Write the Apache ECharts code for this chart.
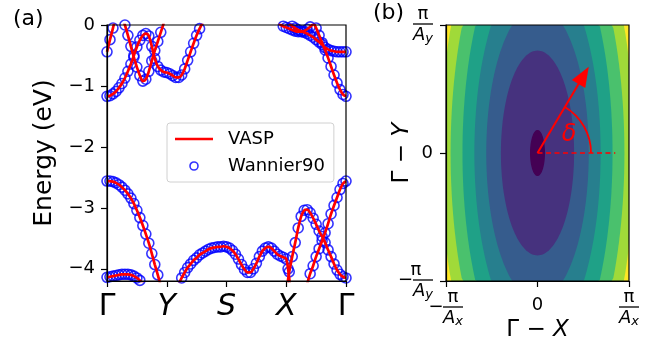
<!DOCTYPE html>
<html>
<head>
<meta charset="utf-8">
<script src="https://cdn.jsdelivr.net/npm/echarts@6/dist/echarts.min.js"></script>
<style>
html, body { margin: 0; padding: 0; background: #fff; }
#main { width: 652px; height: 341px; }
</style>
</head>
<body>
<div id="main"></div>
<script>
var kLabels = ['Γ', 'Y', 'S', 'X', 'Γ'];
var energyTicks = [-4, -3, -2, -1, 0];

// panel (a): bands, [k, E (eV)], k: Γ=0 Y=1 S=2 X=3 Γ=4
var bandU1a = [[0, -0.44], [0.05, -0.24], [0.1, -0.05], [0.15, 0.15]];
var bandU1b = [[3.05, 0.03], [3.1, -0.02], [3.15, -0.05], [3.2, -0.08], [3.25, -0.10], [3.3, -0.12],
  [3.35, -0.14], [3.4, -0.17], [3.45, -0.20], [3.5, -0.24], [3.55, -0.28], [3.6, -0.32], [3.65, -0.37],
  [3.7, -0.40], [3.75, -0.42], [3.8, -0.43], [3.85, -0.44], [3.9, -0.44], [3.95, -0.44], [4, -0.44]];
var bandU2 = [[0.28, 0.06], [0.3, 0], [0.35, -0.17], [0.4, -0.35], [0.45, -0.53], [0.5, -0.69], [0.55, -0.83],
  [0.6, -0.92], [0.65, -0.89], [0.7, -0.76], [0.75, -0.59], [0.8, -0.42], [0.85, -0.27], [0.9, -0.12], [0.95, 0.03]];
var bandU3 = [[0, -1.17], [0.05, -1.16], [0.1, -1.13], [0.15, -1.09], [0.2, -1.03], [0.25, -0.96], [0.3, -0.87],
  [0.35, -0.76], [0.4, -0.64], [0.45, -0.50], [0.5, -0.36], [0.55, -0.25], [0.6, -0.17], [0.65, -0.14],
  [0.7, -0.18], [0.75, -0.35], [0.8, -0.55], [0.85, -0.68], [0.9, -0.74], [0.95, -0.77], [1, -0.78],
  [1.05, -0.80], [1.1, -0.83], [1.15, -0.86], [1.2, -0.86], [1.25, -0.82], [1.3, -0.72], [1.35, -0.58],
  [1.4, -0.44], [1.45, -0.30], [1.5, -0.17], [1.55, -0.06], [1.6, 0.04]];
var bandU4 = [[2.88, 0.04], [2.9, 0.01], [2.95, -0.02], [3, -0.04], [3.05, -0.06], [3.1, -0.08], [3.15, -0.10],
  [3.2, -0.11], [3.25, -0.11], [3.3, -0.10], [3.35, -0.07], [3.4, -0.03], [3.45, 0.02]];
var bandU5 = [[3.46, 0.03], [3.5, -0.05], [3.55, -0.17], [3.6, -0.29], [3.65, -0.41], [3.7, -0.54], [3.75, -0.68],
  [3.8, -0.82], [3.85, -0.95], [3.9, -1.06], [3.95, -1.14], [4, -1.17]];
var bandL1 = [[0, -2.56], [0.05, -2.56], [0.1, -2.57], [0.15, -2.59], [0.2, -2.62], [0.25, -2.66], [0.3, -2.71],
  [0.35, -2.77], [0.4, -2.84], [0.45, -2.93], [0.5, -3.04], [0.55, -3.16], [0.6, -3.29], [0.65, -3.43],
  [0.7, -3.58], [0.75, -3.75], [0.8, -3.93], [0.85, -4.10], [0.9, -4.28]];
var bandL2 = [[0, -4.14], [0.05, -4.13], [0.1, -4.12], [0.15, -4.11], [0.2, -4.10], [0.25, -4.09], [0.3, -4.09],
  [0.35, -4.09], [0.4, -4.10], [0.45, -4.12], [0.5, -4.15], [0.55, -4.19], [0.6, -4.24]];
var bandL3 = [[1.2, -4.25], [1.25, -4.15], [1.3, -4.06], [1.35, -3.98], [1.4, -3.92], [1.45, -3.86], [1.5, -3.82],
  [1.55, -3.77], [1.6, -3.74], [1.65, -3.71], [1.7, -3.68], [1.75, -3.66], [1.8, -3.65], [1.85, -3.64],
  [1.9, -3.64], [1.95, -3.63], [2, -3.64], [2.05, -3.66], [2.1, -3.70], [2.15, -3.76], [2.2, -3.84],
  [2.25, -3.93], [2.3, -4.01], [2.35, -4.06], [2.4, -4.06], [2.45, -4.00], [2.5, -3.91], [2.55, -3.80],
  [2.6, -3.71], [2.65, -3.66], [2.7, -3.64], [2.75, -3.66], [2.8, -3.71], [2.85, -3.76], [2.9, -3.79],
  [2.95, -3.81], [3, -3.84], [3.03, -4.0], [3.06, -4.25]];
var bandL4 = [[3.02, -4.25], [3.05, -4.05], [3.1, -3.80], [3.15, -3.57], [3.2, -3.33], [3.25, -3.14], [3.3, -3.04],
  [3.35, -3.03], [3.4, -3.08], [3.45, -3.17], [3.5, -3.27], [3.55, -3.38], [3.6, -3.47], [3.65, -3.57],
  [3.7, -3.69], [3.75, -3.80], [3.8, -3.92], [3.85, -4.02], [3.9, -4.09], [3.95, -4.13], [4, -4.15]];
var bandL5 = [[3.35, -4.25], [3.4, -4.08], [3.45, -3.95], [3.5, -3.80], [3.55, -3.67], [3.6, -3.54], [3.65, -3.41],
  [3.7, -3.26], [3.75, -3.10], [3.8, -2.96], [3.85, -2.83], [3.9, -2.70], [3.95, -2.60], [4, -2.56]];

var bands = [bandU1a, bandU1b, bandU2, bandU3, bandU4, bandU5, bandL1, bandL2, bandL3, bandL4, bandL5];

// panel (b): contour boundaries as ellipse semi-axes (units of pi/A), outermost first
var contourSemiX = [1.058, 0.95, 0.82, 0.69, 0.56, 0.40, 0.082];
var contourSemiY = [2.22, 2.00, 1.78, 1.47, 1.15, 0.80, 0.18];
var bandColors = ['#fde725', '#a0da39', '#4ac16d', '#1fa187', '#277f8e', '#365c8d', '#46327e', '#440154'];

// arrow / angle annotation in panel (b)
var arrowTip = [0.56, 0.674];
var dashEnd = [0.85, 0];
var arcRadius = 0.585;
var deltaPos = [0.345, 0.14];

var chart = echarts.init(document.getElementById('main'));

var font = 'DejaVu Sans';
var axisLineStyle = { color: '#000', width: 1.2 };

var series = [];
bands.forEach(function (b) {
  series.push({
    name: 'VASP', type: 'line', xAxisIndex: 0, yAxisIndex: 0,
    data: b, symbol: 'none', smooth: 0.3, silent: true, z: 3,
    itemStyle: { color: '#ff0000' },
    lineStyle: { color: '#ff0000', width: 2.7 }
  });
});
series.push({
  name: 'Wannier90', type: 'scatter', xAxisIndex: 0, yAxisIndex: 0,
  data: [].concat.apply([], bands), symbol: 'circle', symbolSize: 10, silent: true, z: 2,
  itemStyle: { color: 'rgba(0,0,0,0)', borderColor: '#0000ff', borderWidth: 1.6 }
});

// background band of panel (b)
series.push({
  type: 'custom', xAxisIndex: 1, yAxisIndex: 1, silent: true, z: 1,
  data: [[-1, 1]],
  renderItem: function (params, api) {
    var a = api.coord([-1, 1]), b = api.coord([1, -1]);
    return { type: 'rect', shape: { x: a[0], y: a[1], width: b[0] - a[0], height: b[1] - a[1] },
      style: { fill: bandColors[0] } };
  }
});
series.push({
  type: 'custom', xAxisIndex: 1, yAxisIndex: 1, silent: true, z: 1, clip: true,
  data: contourSemiX.map(function (sx, i) { return [sx, contourSemiY[i]]; }),
  renderItem: function (params, api) {
    var ax = api.value(0), ay = api.value(1);
    var pts = [];
    for (var i = 0; i < 160; i++) {
      var t = 2 * Math.PI * i / 160;
      var x = Math.max(-1, Math.min(1, ax * Math.cos(t)));
      var y = Math.max(-1, Math.min(1, ay * Math.sin(t)));
      pts.push(api.coord([x, y]));
    }
    return { type: 'polygon', shape: { points: pts }, style: { fill: bandColors[params.dataIndex + 1] } };
  }
});
series.push({
  type: 'custom', xAxisIndex: 1, yAxisIndex: 1, silent: true, z: 5,
  data: [[arrowTip[0], arrowTip[1], dashEnd[0], arcRadius, deltaPos[0], deltaPos[1]]],
  renderItem: function (params, api) {
    var o = api.coord([0, 0]);
    var p = api.coord([api.value(0), api.value(1)]);
    var d = api.coord([api.value(2), 0]);
    var r = api.coord([api.value(3), 0])[0] - o[0];
    var t = api.coord([api.value(4), api.value(5)]);
    var dx = p[0] - o[0], dy = p[1] - o[1], len = Math.sqrt(dx * dx + dy * dy);
    var ux = dx / len, uy = dy / len;
    var hl = 20, hw = 7.8;
    var bx = p[0] - ux * hl, by = p[1] - uy * hl;
    var ang = Math.atan2(dy, dx);
    return {
      type: 'group',
      children: [
        { type: 'line', shape: { x1: o[0], y1: o[1], x2: d[0], y2: d[1] },
          style: { stroke: '#ff0000', lineWidth: 1.5, lineDash: [5, 3.5] } },
        { type: 'arc', shape: { cx: o[0], cy: o[1], r: r, startAngle: ang, endAngle: 0, clockwise: true },
          style: { stroke: '#ff0000', fill: null, lineWidth: 1.8 } },
        { type: 'line', shape: { x1: o[0], y1: o[1], x2: bx + ux * 2, y2: by + uy * 2 },
          style: { stroke: '#ff0000', lineWidth: 2 } },
        { type: 'polygon', shape: { points: [p, [bx - uy * hw, by + ux * hw], [bx + uy * hw, by - ux * hw]] },
          style: { fill: '#ff0000' } },
        { type: 'text', x: t[0], y: t[1],
          style: { text: 'δ', fill: '#ff0000', font: 'italic 24px "DejaVu Sans"', align: 'center', verticalAlign: 'middle' } }
      ]
    };
  }
});

var fracRich = {
  sp: { width: 14 },
  n: { fontSize: 18, lineHeight: 16, width: 20, align: 'center', fontFamily: font, color: '#000' },
  m: { fontSize: 18, lineHeight: 4, width: 14, fontFamily: font, color: '#000' },
  bar: { width: 20, height: 1.3, lineHeight: 4, backgroundColor: '#000' },
  d: { fontSize: 18, lineHeight: 18, fontStyle: 'italic', fontFamily: font, color: '#000' },
  s: { fontSize: 13, lineHeight: 10, padding: [8, 0, 0, 0], fontStyle: 'italic', fontFamily: font, color: '#000' },
  z: { fontSize: 18, padding: [7, 0, 0, 0], fontFamily: font, color: '#000' },
  z0: { fontSize: 18, fontFamily: font, color: '#000' }
};

var option = {
  animation: false,
  textStyle: { fontFamily: font },
  grid: [
    { left: 107, top: 25, width: 239, height: 256, outerBoundsMode: 'none',
      show: true, borderColor: '#000', borderWidth: 1.2, z: 10 },
    { left: 446, top: 25, width: 183, height: 256, outerBoundsMode: 'none',
      show: true, borderColor: '#000', borderWidth: 1.2, z: 10 }
  ],
  legend: {
    orient: 'vertical', left: 167, top: 123, selectedMode: false,
    padding: [6, 9, 6, 8], itemWidth: 38, itemHeight: 8, itemGap: 7,
    borderColor: '#d0d0d0', borderWidth: 1, borderRadius: 3, backgroundColor: 'rgba(255,255,255,0.8)',
    textStyle: { fontSize: 18, lineHeight: 20, color: '#000', fontFamily: font, padding: [0, 0, 0, 10] },
    data: [
      { name: 'VASP', icon: 'path://M0 0H38V2.7H0Z', itemStyle: { color: '#ff0000', borderWidth: 0 } },
      { name: 'Wannier90', icon: 'circle', itemStyle: { color: 'rgba(0,0,0,0)', borderColor: '#0000ff', borderWidth: 1.6 } }
    ]
  },
  graphic: [
    { type: 'text', left: 13, top: 8, style: { text: '(a)', font: '22px "DejaVu Sans"', fill: '#000' } },
    { type: 'text', left: 373, top: 2, style: { text: '(b)', font: '22px "DejaVu Sans"', fill: '#000' } }
  ],
  xAxis: [
    {
      gridIndex: 0, type: 'value', min: 0, max: 4, interval: 1, z: 10,
      axisLine: { onZero: false, lineStyle: axisLineStyle }, splitLine: { show: false },
      axisTick: { length: 6, lineStyle: axisLineStyle },
      axisLabel: {
        margin: 11,
        formatter: function (v) {
          var s = kLabels[Math.round(v)];
          return s === 'Γ' ? '{u|Γ}' : '{i|' + s + '}';
        },
        rich: {
          u: { fontSize: 30, fontFamily: font, color: '#000' },
          i: { fontSize: 30, fontFamily: font, fontStyle: 'italic', color: '#000' }
        }
      }
    },
    {
      gridIndex: 1, type: 'value', min: -1, max: 1, interval: 1, z: 10,
      axisLine: { onZero: false, lineStyle: axisLineStyle }, splitLine: { show: false },
      axisTick: { length: 6, lineStyle: axisLineStyle },
      name: 'Γ − {i|X}', nameLocation: 'middle', nameGap: 38, nameMoveOverlap: false,
      nameTextStyle: { fontSize: 23, color: '#000', fontFamily: font,
        rich: { i: { fontSize: 23, fontStyle: 'italic', fontFamily: font, color: '#000' } } },
      axisLabel: {
        margin: 8, verticalAlign: 'top', rich: fracRich,
        formatter: function (v) {
          if (v < 0) return '{sp|}{n|π}\n{m|−}{bar|}\n{sp|}{d|A}{s|x}';
          if (v > 0) return '{n|π}\n{bar|}\n{d|A}{s|x}';
          return '{z|0}';
        }
      }
    }
  ],
  yAxis: [
    {
      gridIndex: 0, type: 'value', min: -4.2, max: 0, z: 10,
      axisLine: { onZero: false, lineStyle: axisLineStyle }, splitLine: { show: false },
      axisTick: { length: 6, lineStyle: axisLineStyle, customValues: energyTicks },
      name: 'Energy (eV)', nameLocation: 'middle', nameGap: 50, nameMoveOverlap: false,
      nameTextStyle: { fontSize: 25, color: '#000', fontFamily: font },
      axisLabel: {
        margin: 12, fontSize: 18, color: '#000', fontFamily: font, customValues: energyTicks,
        formatter: function (v) { return v === 0 ? '0' : '−' + Math.abs(v); }
      }
    },
    {
      gridIndex: 1, type: 'value', min: -1, max: 1, interval: 1, z: 10,
      axisLine: { onZero: false, lineStyle: axisLineStyle }, splitLine: { show: false },
      axisTick: { length: 6, lineStyle: axisLineStyle },
      name: 'Γ − {i|Y}', nameLocation: 'middle', nameGap: 32, nameMoveOverlap: false,
      nameTextStyle: { fontSize: 23, color: '#000', fontFamily: font,
        rich: { i: { fontSize: 23, fontStyle: 'italic', fontFamily: font, color: '#000' } } },
      axisLabel: {
        margin: 13, rich: fracRich,
        formatter: function (v) {
          if (v < 0) return '{n|π}\n{m|−}{bar|}\n{d|A}{s|y}';
          if (v > 0) return '{n|π}\n{bar|}\n{d|A}{s|y}';
          return '{z0|0}';
        }
      }
    }
  ],
  series: series
};

chart.setOption(option);
window.addEventListener('resize', function () { chart.resize(); });
</script>
</body>
</html>
